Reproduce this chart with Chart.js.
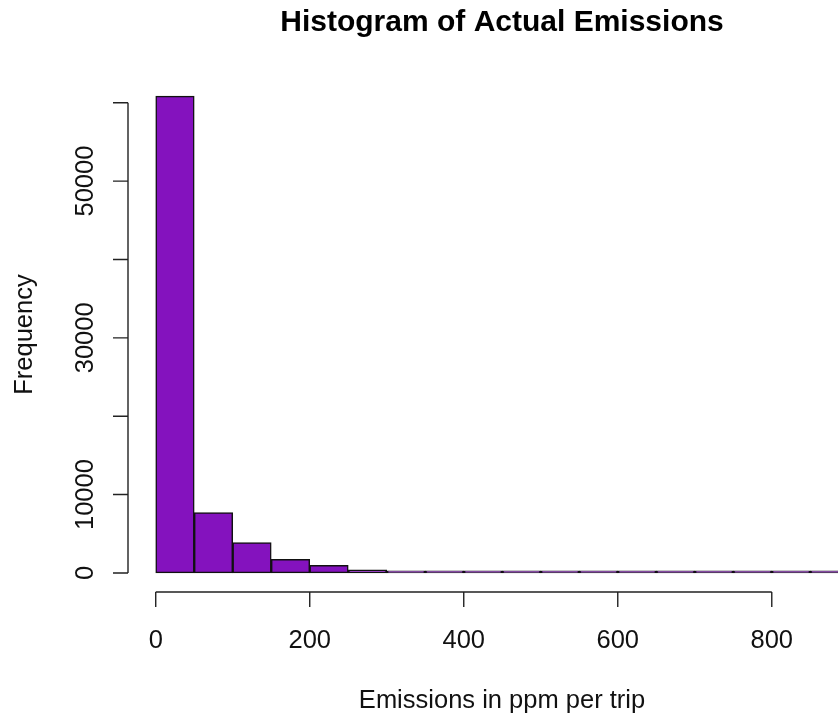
<!DOCTYPE html>
<html lang="en">
<head>
    <meta charset="UTF-8">
    <title>Histogram of Actual Emissions</title>
    <script src="https://cdn.jsdelivr.net/npm/chart.js"></script>
    <style>
        body { margin: 0; background: #fff; overflow: hidden; }
    </style>
</head>
<body>
    <canvas id="histChart" width="838" height="719"></canvas>

    <script>
        // bin edges (ppm per trip) and trip counts in each bin
        const breaks = [0, 50, 100, 150, 200, 250, 300, 350, 400, 450, 500, 550, 600, 650, 700, 750, 800, 850, 900];
        const counts = [60850, 7700, 3880, 1750, 960, 380, 150, 120, 60, 40, 25, 20, 15, 10, 8, 6, 5, 4];
        const xTicks = [0, 200, 400, 600, 800];
        const yTicks = [0, 10000, 20000, 30000, 40000, 50000, 60000];
        const yLabelled = [0, 10000, 30000, 50000];

        const FONT = '"Liberation Sans", Arial, Helvetica, sans-serif';

        const bins = counts.map((c, i) => ({ x: (breaks[i] + breaks[i + 1]) / 2, y: c }));
        const maxCount = Math.max(...counts);

        // base-graphics style axes: detached lines, outward ticks, rotated y labels
        const baseAxes = {
            id: 'baseAxes',
            afterDraw(chart) {
                const ctx = chart.ctx;
                const xs = chart.scales.x;
                const ys = chart.scales.y;
                const area = chart.chartArea;
                const midX = area.left + 374;
                const midY = (area.top + area.bottom) / 2;
                ctx.save();
                ctx.strokeStyle = '#222';
                ctx.lineWidth = 1.4;
                ctx.fillStyle = '#111';
                ctx.font = '25.5px ' + FONT;
                ctx.textAlign = 'center';
                ctx.textBaseline = 'alphabetic';

                // y axis
                const yTop = ys.getPixelForValue(yTicks[yTicks.length - 1]);
                const yBot = ys.getPixelForValue(yTicks[0]);
                ctx.beginPath();
                ctx.moveTo(area.left, yTop);
                ctx.lineTo(area.left, yBot);
                yTicks.forEach(v => {
                    const p = ys.getPixelForValue(v);
                    ctx.moveTo(area.left - 15, p);
                    ctx.lineTo(area.left, p);
                });
                ctx.stroke();
                yLabelled.forEach(v => {
                    ctx.save();
                    ctx.translate(area.left - 35, ys.getPixelForValue(v));
                    ctx.rotate(-Math.PI / 2);
                    ctx.fillText(String(v), 0, 0);
                    ctx.restore();
                });

                // x axis
                const xl = xs.getPixelForValue(xTicks[0]);
                const xr = xs.getPixelForValue(xTicks[xTicks.length - 1]);
                ctx.beginPath();
                ctx.moveTo(xl, area.bottom);
                ctx.lineTo(xr, area.bottom);
                xTicks.forEach(v => {
                    const p = xs.getPixelForValue(v);
                    ctx.moveTo(p, area.bottom);
                    ctx.lineTo(p, area.bottom + 15);
                });
                ctx.stroke();
                xTicks.forEach(v => {
                    ctx.fillText(String(v), xs.getPixelForValue(v), area.bottom + 56);
                });

                // axis titles
                ctx.fillText('Emissions in ppm per trip', midX, area.bottom + 116);
                ctx.save();
                ctx.translate(area.left - 96, midY);
                ctx.rotate(-Math.PI / 2);
                ctx.fillText('Frequency', 0, 0);
                ctx.restore();

                // main title
                ctx.font = 'bold 30px ' + FONT;
                ctx.fillStyle = '#000';
                ctx.fillText('Histogram of Actual Emissions', midX, 31);
                ctx.restore();
            }
        };

        new Chart(document.getElementById('histChart').getContext('2d'), {
            type: 'bar',
            data: {
                datasets: [{
                    data: bins,
                    backgroundColor: '#8412BE',
                    borderColor: '#111',
                    borderWidth: 1.5,
                    borderSkipped: false,
                    minBarLength: 2,
                    barPercentage: 1,
                    categoryPercentage: 1
                }]
            },
            options: {
                responsive: false,
                devicePixelRatio: 1,
                animation: false,
                layout: { padding: { left: 128, right: 0, top: 77, bottom: 127 } },
                plugins: { legend: { display: false }, tooltip: { enabled: false } },
                scales: {
                    x: { type: 'linear', display: false, offset: false, min: -36, max: 886 },
                    y: { display: false, min: -0.04 * maxCount, max: 1.04 * maxCount }
                }
            },
            plugins: [baseAxes]
        });
    </script>
</body>
</html>
